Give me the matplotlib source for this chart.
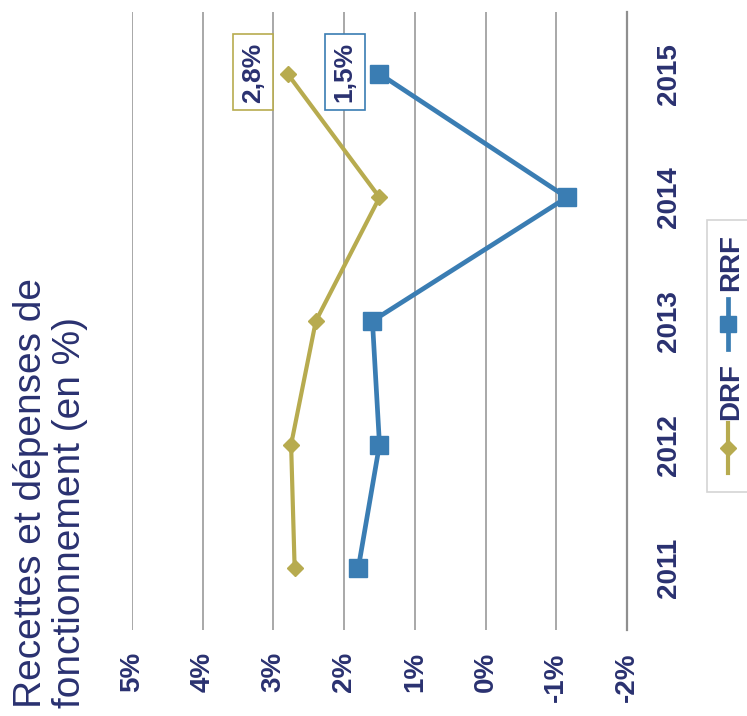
import matplotlib
matplotlib.use("Agg")
import matplotlib.pyplot as plt
from matplotlib.lines import Line2D
from matplotlib.patches import Rectangle

# Data (growth rates in %)
years = [2011, 2012, 2013, 2014, 2015]
drf = [2.7, 2.75, 2.4, 1.5, 2.8]
rrf = [1.8, 1.5, 1.6, -1.15, 1.5]
pct_ticks = [5, 4, 3, 2, 1, 0, -1, -2]
series_names = ["DRF", "RRF"]
title = "Recettes et dépenses de\nfonctionnement (en %)"

C_DRF = "#b7ab4f"
C_RRF = "#3a7db3"
C_TXT = "#2a3170"
C_GRID = "#a8a8a8"

plt.rcParams["font.family"] = ["Liberation Sans", "DejaVu Sans"]

W, H = 747, 716
fig = plt.figure(figsize=(W / 100, H / 100), dpi=100)
fig.patch.set_facecolor("white")


def fx(px):
    return px / W


def fy(py):
    return 1 - py / H


# The chart is laid out sideways: values run horizontally (5% left, -2% right),
# years run vertically (2011 at the bottom).
ax = fig.add_axes([fx(132), fy(630), fx(627) - fx(132), fy(12) - fy(630)])
ax.set_xlim(5, -2)
ax.set_ylim(2010.5, 2015.5)

ax.set_xticks(pct_ticks)
ax.set_xticklabels([f"{t}%" for t in pct_ticks], rotation=90,
                   fontsize=20, fontweight="bold", color=C_TXT)
ax.tick_params(axis="x", length=0, pad=16)

ax.yaxis.tick_right()
ax.set_yticks(years)
ax.set_yticklabels([str(y) for y in years], rotation=90, va="center",
                   fontsize=20, fontweight="bold", color=C_TXT)
ax.tick_params(axis="y", length=0, pad=21)

ax.grid(axis="x", color=C_GRID, lw=1.4)
ax.grid(axis="y", visible=False)
for side in ("left", "top", "bottom"):
    ax.spines[side].set_visible(False)
ax.spines["right"].set_color("#8f8f8f")
ax.spines["right"].set_linewidth(1.6)
ax.set_axisbelow(True)

ax.plot(drf, years, color=C_DRF, lw=3.0, marker="D", markersize=8,
        markerfacecolor=C_DRF, markeredgecolor=C_DRF, zorder=3)
ax.plot(rrf, years, color=C_RRF, lw=3.4, marker="s", markersize=13.5,
        markerfacecolor=C_RRF, markeredgecolor=C_RRF, zorder=4)


def fmt(v):
    return f"{v:.1f}".replace(".", ",") + "%"


# Value labels for the last year
for vals, col in ((drf, C_DRF), (rrf, C_RRF)):
    ax.annotate(fmt(vals[-1]), (vals[-1], years[-1]), xytext=(-25, 1),
                textcoords="offset points", rotation=90, ha="center", va="center",
                fontsize=19, fontweight="bold", color=C_TXT, zorder=5,
                bbox=dict(boxstyle="square,pad=0.3", fc="white", ec=col, lw=1.2))

# Title
fig.text(fx(13), fy(708), title, rotation=90, ha="left", va="bottom",
         multialignment="left", linespacing=1.12, fontsize=28, color=C_TXT)

# Legend, drawn sideways like the rest of the chart
fig.patches.append(Rectangle((fx(707), fy(492)), fx(760) - fx(707), fy(220) - fy(492),
                             transform=fig.transFigure, fc="white", ec="#d4d4d4", lw=1.2))
legend_rows = [
    (series_names[0], C_DRF, "D", 8, 3.0, 473, 423, 420),
    (series_names[1], C_RRF, "s", 12, 3.4, 349, 299, 291),
]
for name, col, mk, ms, lw, y0, y1, ytxt in legend_rows:
    fig.add_artist(Line2D([fx(728), fx(728)], [fy(y0), fy(y1)], color=col, lw=lw,
                          transform=fig.transFigure))
    fig.add_artist(Line2D([fx(728)], [fy((y0 + y1) / 2)], color=col, marker=mk,
                          markersize=ms, transform=fig.transFigure))
    fig.text(fx(731), fy(ytxt), name, rotation=90, ha="center", va="bottom",
             fontsize=20, fontweight="bold", color=C_TXT)

fig.savefig("out.png", dpi=100, facecolor="white")
